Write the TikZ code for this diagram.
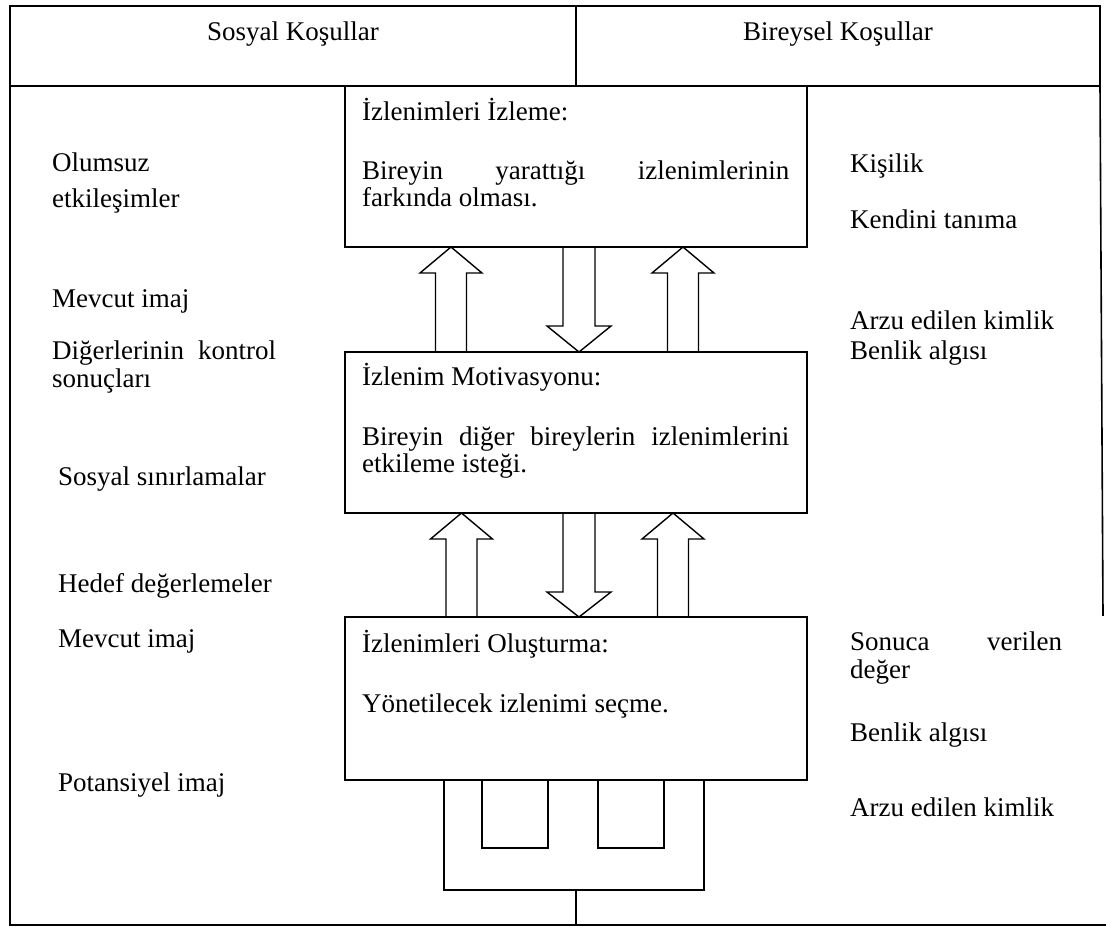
\documentclass[tikz,border=0pt]{standalone}
\usepackage{fontspec}
\setmainfont{Liberation Serif}
\begin{document}
\begin{tikzpicture}[x=1pt,y=-1pt,
  frame/.style={line width=1.6pt,line cap=rect},
  box/.style={draw,line width=1.6pt,inner sep=0pt},
  blk/.style={line width=1.4pt,line join=miter},
  lbl/.style={anchor=base west,inner sep=0pt,font=\fontsize{27}{27}\selectfont},
  hdr/.style={anchor=base,inner sep=0pt,font=\fontsize{27}{27}\selectfont}]
\useasboundingbox (0,0) rectangle (1106,927);

% outer frame and header row
\draw[frame] (10,6) rectangle (1100,86);
\draw[frame] (576,6) -- (576,86);
\draw[frame] (10,86) -- (10,925) -- (1106,925);
\draw[frame] (1100,86) -- (1103,615);

\node[hdr] (hs) at (293,40) {Sosyal Koşullar};
\node[hdr] (hb) at (838,40) {Bireysel Koşullar};

% three stage boxes
\node[box,minimum width=462pt,minimum height=161pt] (b1) at (576,166.5) {};
\node[box,minimum width=462pt,minimum height=161pt] (b2) at (576,432.5) {};
\node[box,minimum width=462pt,minimum height=163pt] (b3) at (576,698.5) {};

\newcommand{\boxline}[1]{\makebox[427pt][s]{#1}}
\node[lbl] (t1) at (362,120) {İzlenimleri İzleme:};
\node[lbl] (t1a) at (362,179) {\boxline{Bireyin yarattığı izlenimlerinin}};
\node[lbl] (t1b) at (362,206) {farkında olması.};
\node[lbl] (t2) at (362,385) {İzlenim Motivasyonu:};
\node[lbl] (t2a) at (362,445) {\boxline{Bireyin diğer bireylerin izlenimlerini}};
\node[lbl] (t2b) at (362,472) {etkileme isteği.};
\node[lbl] (t3) at (362,652) {İzlenimleri Oluşturma:};
\node[lbl] (t3a) at (362,712) {Yönetilecek izlenimi seçme.};

% block arrows between the boxes
\newcommand{\blkup}[4]{%
  \draw[blk] (#1-15.5,#4) -- (#1-15.5,#3) -- (#1-31,#3) -- (#1,#2) -- (#1+31,#3) -- (#1+15.5,#3) -- (#1+15.5,#4);}
\newcommand{\blkdown}[4]{%
  \draw[blk] (#1-16,#2) -- (#1-16,#3) -- (#1-32,#3) -- (#1,#4) -- (#1+32,#3) -- (#1+16,#3) -- (#1+16,#2);}
\blkup{451}{247}{273}{352}
\blkdown{579}{247}{326}{352}
\blkup{683}{247}{273}{352}
\blkup{461.5}{513}{539}{617}
\blkdown{579}{513}{592}{617}
\blkup{673}{513}{539}{617}

% feedback bracket under the last box
\coordinate (stem) at (576,925);
\draw[frame] (444,780) -- (444,890) -- (704,890) -- (704,780);
\draw[frame] (482,780) -- (482,848) -- (548,848) -- (548,780);
\draw[frame] (598,780) -- (598,848) -- (664,848) -- (664,780);
\draw[frame] (576,890) -- (stem);

% social conditions
\node[lbl] (s1) at (52,171) {Olumsuz};
\node[lbl] (s1b) at (52,207) {etkileşimler};
\node[lbl] (s2) at (52,307) {Mevcut imaj};
\node[lbl] (s3) at (52,359) {\makebox[224pt][s]{Diğerlerinin kontrol}};
\node[lbl] (s3b) at (52,387) {sonuçları};
\node[lbl] (s4) at (58,485) {Sosyal sınırlamalar};
\node[lbl] (s5) at (58,592) {Hedef değerlemeler};
\node[lbl] (s6) at (58,647) {Mevcut imaj};
\node[lbl] (s7) at (58,791) {Potansiyel imaj};

% individual conditions
\node[lbl] (r1) at (850,172) {Kişilik};
\node[lbl] (r2) at (850,228) {Kendini tanıma};
\node[lbl] (r3) at (850,329) {Arzu edilen kimlik};
\node[lbl] (r4) at (850,359) {Benlik algısı};
\node[lbl] (r5) at (850,650) {\makebox[212pt][s]{Sonuca verilen}};
\node[lbl] (r5b) at (850,678) {değer};
\node[lbl] (r6) at (850,741) {Benlik algısı};
\node[lbl] (r7) at (850,816) {Arzu edilen kimlik};
\end{tikzpicture}
\end{document}
